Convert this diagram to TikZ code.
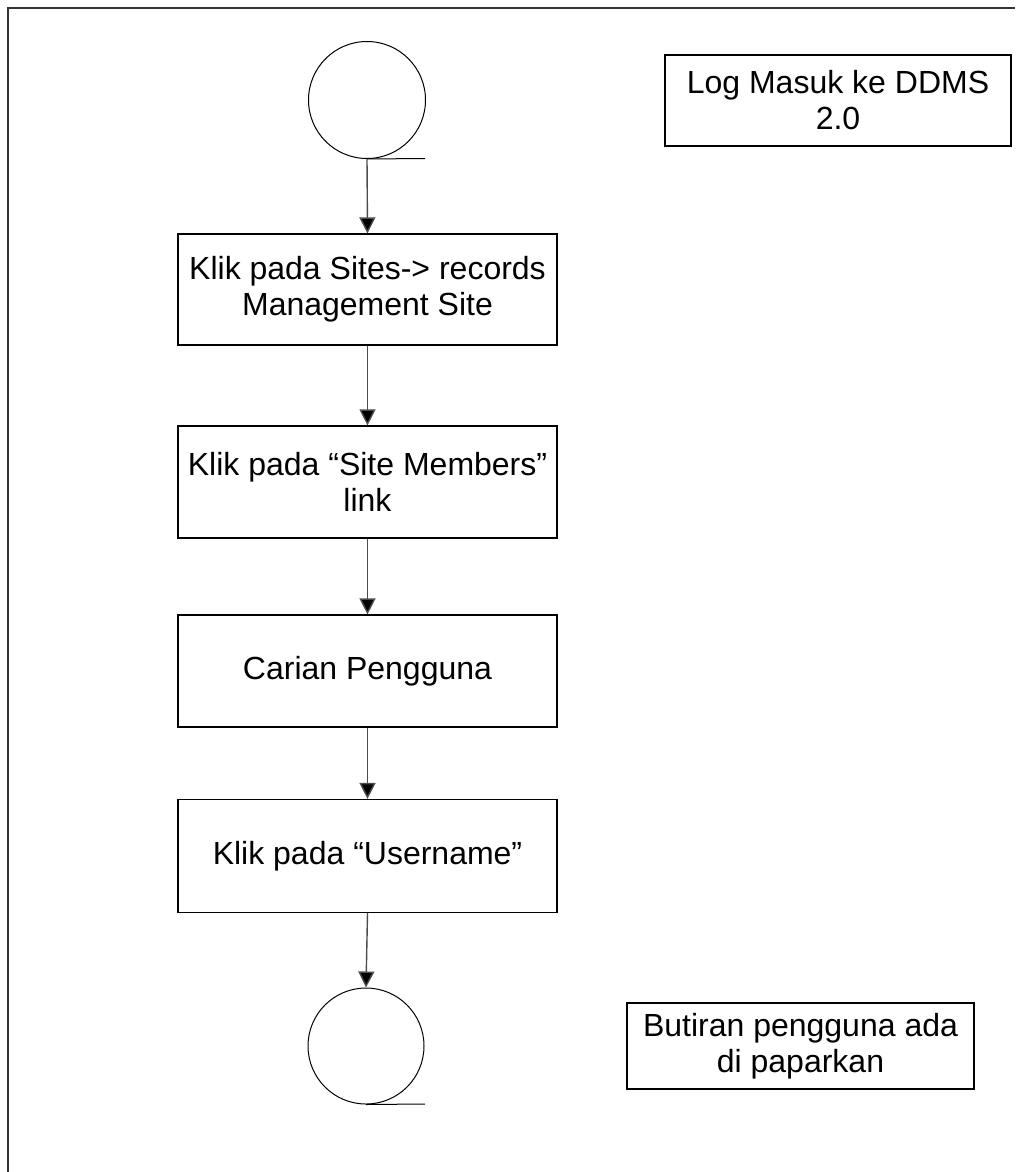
\documentclass[tikz,border=0pt]{standalone}
\usepackage{fontspec}
\setmainfont{Liberation Sans}
\usetikzlibrary{arrows.meta}
\begin{document}
\begin{tikzpicture}[x=1pt,y=-1pt,
  stepbox/.style={draw=black,line width=1.2pt,minimum width=379pt,inner sep=0pt,align=center,
    font=\fontsize{32}{36}\selectfont},
  notebox/.style={draw=black,line width=1.4pt,inner sep=0pt,align=center,
    font=\fontsize{32}{36}\selectfont},
  endcircle/.style={draw=black,circle,line width=1pt,inner sep=0pt},
  flow/.style={draw=black!70,line width=1.4pt,-{Triangle[width=16pt,length=16pt,fill=black]}},
  tangent/.style={draw=black,line width=1pt},
  frameline/.style={draw=black!80,line width=1.3pt}]
\useasboundingbox (0,0) rectangle (1015,1172);
\coordinate (f1) at (8,1172);
\coordinate (f2) at (8,8);
\coordinate (f3) at (1015,8);
\draw[frameline] (f1) -- (f2) -- (f3);

\node[endcircle,minimum size=117pt] (c1) at (367,100) {};
\coordinate (t1) at (425,158.5);
\draw[tangent] (c1.south) -- (t1);

\node[stepbox,minimum height=111pt] (b1) at (367.5,289.5) {Klik pada Sites-> records\\Management Site};
\node[stepbox,minimum height=112pt] (b2) at (367.5,482) {Klik pada “Site Members”\\link};
\node[stepbox,minimum height=112pt] (b3) at (367.5,671) {Carian Pengguna};
\node[stepbox,minimum height=113pt] (b4) at (367.5,856) {Klik pada “Username”};

\node[endcircle,minimum size=116pt] (c2) at (366,1046) {};
\coordinate (t2) at (425,1104);
\draw[tangent] (c2.south) -- (t2);

\draw[flow] (c1.south) -- (b1.north);
\draw[flow] (b1.south) -- (b2.north);
\draw[flow] (b2.south) -- (b3.north);
\draw[flow] (b3.south) -- (b4.north);
\draw[flow] (b4.south) -- (c2.north);

\node[notebox,minimum width=346pt,minimum height=91pt] (n1) at (838,100.5) {Log Masuk ke DDMS\\2.0};
\node[notebox,minimum width=347pt,minimum height=86pt] (n2) at (800.5,1046) {Butiran pengguna ada\\di paparkan};
\end{tikzpicture}
\end{document}
